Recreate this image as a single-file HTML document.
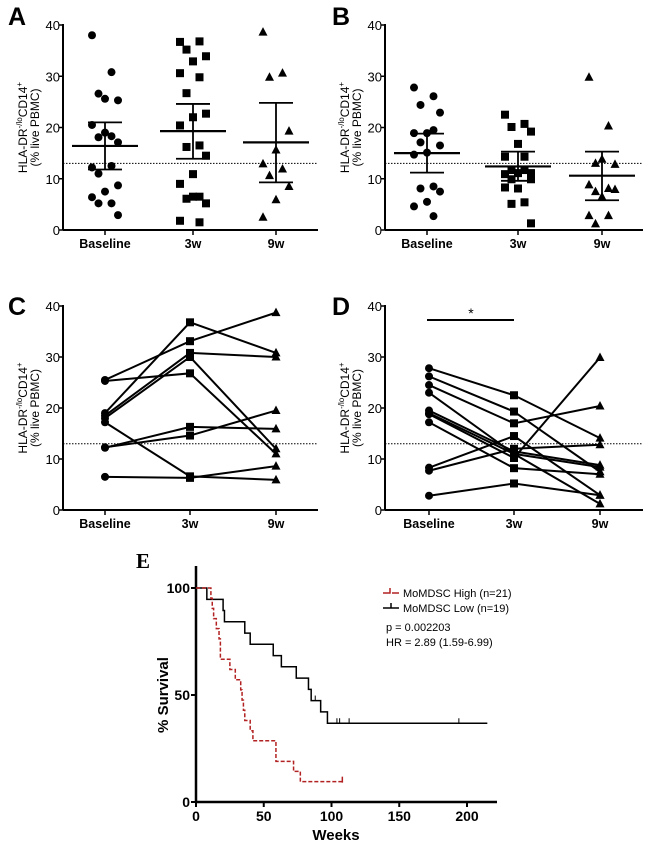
<!DOCTYPE html>
<html><head><meta charset="utf-8"><style>
body{margin:0;background:#fff}
svg{display:block;font-family:"Liberation Sans",Arial,sans-serif}
</style></head><body>
<svg id="fig" width="650" height="849" viewBox="0 0 650 849"></svg>
<script>
// ---- Data ----
const categories = ["Baseline","3w","9w"];
const yTicks = [0,10,20,30,40];
const threshold = 13;
// Panel A
const aBase = [38,30.8,26.6,25.3,25.6,20.5,18.3,18.1,17.1,19,12.2,12.5,11,8.7,7.5,6.4,5.2,5.2,2.9];
const a3w = [36.7,36.8,35.2,33.9,32.9,30.6,29.8,26.7,22.7,22,20.4,16.5,16.2,14.5,10.9,9,6.5,6.1,5.2,6.5,1.8,1.5];
const a9w = [38.6,30.6,29.8,19.3,15.6,12.9,11.9,10.6,8.5,5.9,2.5];
const aMean = [16.4,19.3,17.1];
const aUpper = [21,24.6,24.8];
const aLower = [11.8,13.9,9.3];
// Panel B
const bBase = [27.8,26.1,24.4,22.9,18.9,18.9,19.5,17.1,16.5,15.1,14.7,8.5,8.1,7.5,5.5,4.6,2.7];
const b3w = [22.5,20.7,20.1,19.2,16.8,14.3,14.3,11.7,11.1,11.1,10.9,11.7,9.9,9.9,8.1,8.3,5.4,5.1,1.3];
const b9w = [29.8,20.3,13,12.8,13.8,8.8,8.1,7.5,7.9,6.5,2.8,2.8,1.2];
const bMean = [15,12.4,10.6];
const bUpper = [18.8,15.3,15.3];
const bLower = [11.2,9.6,5.8];
// Panel C paired (baseline, 3w, 9w)
const cBase = [25.5,25.3,19,18.5,18,17.2,12.2,12.3,6.5];
const c3w = [33.1,26.8,36.8,30.8,30,6.6,16.3,14.6,6.3];
const c9w = [38.7,11,30.8,30,12,5.9,15.9,19.5,8.6];
// Panel D paired
const dBase = [27.8,26.2,24.5,23,19.5,19,18.8,17.2,8.3,7.7,2.8];
const d3w = [22.5,19.3,17,11,11.5,11,10.2,8.2,14.5,12,5.2];
const d9w = [14.1,7.5,20.4,1.2,8.8,8.4,29.9,7,2.9,12.8,2.9];
// Panel E Kaplan-Meier
const highTimes = [0,11,12,13,15,17,18,25,29,33,34,35,36,40,42,59,72,77,108];
const highSurv = [100,95.2,90.5,85.7,81,76.2,66.7,61.9,57.1,52.4,47.6,42.9,38.1,33.3,28.6,19,14.3,9.5,9.5];
const lowTimes = [0,8,20,21,36,40,57,63,74,83,85,92,97,215];
const lowSurv = [100,94.7,89.5,84.2,78.9,73.7,68.4,63.2,57.9,52.6,47.4,42.1,36.8,36.8];
const lowCensor = [88,104,106,113,194];
const highCensor = [108];
const eXTicks = [0,50,100,150,200];
const eYTicks = [0,50,100];

const NS="http://www.w3.org/2000/svg";
const svg=document.getElementById('fig');
function mk(tag,attrs,parent,text){const e=document.createElementNS(NS,tag);for(const k in attrs)e.setAttribute(k,attrs[k]);if(text!==undefined)e.textContent=text;(parent||svg).appendChild(e);return e;}

function marker(g,shape,x,y,name){
  let e;
  if(shape==='circle'){e=mk('circle',{cx:x,cy:y,r:4,fill:'#000'},g);}
  else if(shape==='square'){e=mk('rect',{x:x-4,y:y-4,width:8,height:8,fill:'#000'},g);}
  else {e=mk('polygon',{points:`${x},${y-5} ${x-4.5},${y+3.5} ${x+4.5},${y+3.5}`,fill:'#000'},g);}
  
  
}

function axesPanel(opt){
  const g=mk('g',{});
  
  
  const ys=v=>opt.y0-(v/40)*(opt.y0-opt.y40);
  const lbl=mk('text',{x:opt.lx,y:opt.ly,'font-size':25,'font-weight':'bold'},g,opt.letter);
  
  
  mk('line',{x1:opt.ax,y1:opt.y40-1,x2:opt.ax,y2:opt.y0,stroke:'#000','stroke-width':2},g);
  mk('line',{x1:opt.ax,y1:opt.y0,x2:opt.xend,y2:opt.y0,stroke:'#000','stroke-width':2},g);
  yTicks.forEach(t=>{
    mk('line',{x1:opt.ax-4,y1:ys(t),x2:opt.ax,y2:ys(t),stroke:'#000','stroke-width':1.5},g);
    const tx=mk('text',{x:opt.ax-3,y:ys(t)+5,'font-size':13,'text-anchor':'end'},g,String(t));
    
    
  });
  categories.forEach((c,i)=>{
    const x=opt.cx[i];
    mk('line',{x1:x,y1:opt.y0,x2:x,y2:opt.y0+5,stroke:'#000','stroke-width':1.5},g);
    const tx=mk('text',{x:x,y:opt.y0+18,'font-size':12.5,'font-weight':'bold','text-anchor':'middle'},g,c);
    
    
  });
  mk('line',{x1:opt.ax,y1:ys(threshold),x2:opt.xend,y2:ys(threshold),stroke:'#000','stroke-width':1,'stroke-dasharray':'1.5,1.5'},g);
  const ym=(opt.y0+opt.y40)/2;
  const t=mk('text',{transform:`translate(${opt.ax-36},${ym}) rotate(-90)`,'font-size':12,'text-anchor':'middle'},g);
  
  
  mk('tspan',{x:0,dy:0},t,'HLA-DR');
  mk('tspan',{'font-size':8,dy:-5},t,'-/lo');
  mk('tspan',{dy:5},t,'CD14');
  mk('tspan',{'font-size':8,dy:-5},t,'+');
  mk('tspan',{x:0,dy:17},t,'(% live PBMC)');
  return {g,ys};
}

const shapes=['circle','square','triangle'];
function scatterPanel(opt,series,mean,upper,lower){
  const {g,ys}=axesPanel(opt);
  series.forEach((arr,ci)=>{
    arr.forEach((v,i)=>{
      const off=(((i*3)%5)-2)*6.5;
      marker(g,shapes[ci],opt.cx[ci]+off,ys(v),'point-'+categories[ci].toLowerCase());
    });
    const x=opt.cx[ci];
    mk('line',{x1:x-33,y1:ys(mean[ci]),x2:x+33,y2:ys(mean[ci]),stroke:'#000','stroke-width':2.2},g);
    mk('line',{x1:x,y1:ys(upper[ci]),x2:x,y2:ys(lower[ci]),stroke:'#000','stroke-width':1.8},g);
    [upper[ci],lower[ci]].forEach(v=>mk('line',{x1:x-17,y1:ys(v),x2:x+17,y2:ys(v),stroke:'#000','stroke-width':1.8},g));
  });
}
function pairedPanel(opt,b,w3,w9){
  const {g,ys}=axesPanel(opt);
  b.forEach((v,i)=>{
    const pts=[[opt.cx[0],ys(v)],[opt.cx[1],ys(w3[i])],[opt.cx[2],ys(w9[i])]];
    const pl=mk('polyline',{points:pts.map(p=>p.join(',')).join(' '),fill:'none',stroke:'#000','stroke-width':2},g);
    
    
    pts.forEach((p,ci)=>marker(g,shapes[ci],p[0],p[1],'point-'+categories[ci].toLowerCase()));
  });
  return {g,ys};
}

scatterPanel({name:'panel-a',letter:'A',lx:8,ly:25,ax:63,y0:230,y40:25,xend:318,cx:[105,193,276]},[aBase,a3w,a9w],aMean,aUpper,aLower);
scatterPanel({name:'panel-b',letter:'B',lx:332,ly:25,ax:385,y0:230,y40:25,xend:643,cx:[427,518,602]},[bBase,b3w,b9w],bMean,bUpper,bLower);
pairedPanel({name:'panel-c',letter:'C',lx:8,ly:315,ax:63,y0:510,y40:306,xend:318,cx:[105,190,276]},cBase,c3w,c9w);
const D=pairedPanel({name:'panel-d',letter:'D',lx:332,ly:315,ax:385,y0:510,y40:306,xend:643,cx:[429,514,600]},dBase,d3w,d9w);
mk('line',{x1:427,y1:320,x2:514,y2:320,stroke:'#000','stroke-width':2},D.g);
const st=mk('text',{x:471,y:318,'font-size':14,'text-anchor':'middle'},D.g,'*');



// Panel E
(function(){
  const g=mk('g',{});
  
  
  const X0=196, pxw=(467-196)/200, Y0=802, Y100=588;
  const xs=w=>X0+w*pxw, ys=v=>Y0-v/100*(Y0-Y100);
  const L=mk('text',{x:136,y:568,'font-size':21,'font-weight':'bold','font-family':'"Liberation Serif",serif'},g,'E');
  
  
  mk('line',{x1:X0,y1:566,x2:X0,y2:Y0,stroke:'#000','stroke-width':2.5},g);
  mk('line',{x1:X0,y1:Y0,x2:497,y2:Y0,stroke:'#000','stroke-width':2.5},g);
  eYTicks.forEach(t=>{
    mk('line',{x1:X0-5,y1:ys(t),x2:X0,y2:ys(t),stroke:'#000','stroke-width':2},g);
    const tx=mk('text',{x:X0-6,y:ys(t)+5,'font-size':14,'font-weight':'bold','text-anchor':'end'},g,String(t));
    
    
  });
  eXTicks.forEach(t=>{
    mk('line',{x1:xs(t),y1:Y0,x2:xs(t),y2:Y0+5,stroke:'#000','stroke-width':2},g);
    const tx=mk('text',{x:xs(t),y:Y0+19,'font-size':14,'font-weight':'bold','text-anchor':'middle'},g,String(t));
    
    
  });
  const xt=mk('text',{x:336,y:840,'font-size':15,'font-weight':'bold','text-anchor':'middle'},g,'Weeks');
  
  
  const yt=mk('text',{transform:`translate(168,695) rotate(-90)`,'font-size':15,'font-weight':'bold','text-anchor':'middle'},g,'% Survival');
  
  
  function step(times,surv){
    let d=`M${xs(times[0])},${ys(surv[0])}`;
    for(let i=1;i<times.length;i++){d+=` H${xs(times[i])} V${ys(surv[i])}`;}
    return d;
  }
  function survAt(times,surv,t){let v=surv[0];for(let i=0;i<times.length;i++){if(times[i]<=t)v=surv[i];}return v;}
  const lo=mk('path',{d:step(lowTimes,lowSurv),fill:'none',stroke:'#000','stroke-width':1.5},g);
  
  
  lowCensor.forEach(t=>mk('line',{x1:xs(t),y1:ys(survAt(lowTimes,lowSurv,t)),x2:xs(t),y2:ys(survAt(lowTimes,lowSurv,t))-5,stroke:'#000','stroke-width':1},g));
  const hi=mk('path',{d:step(highTimes,highSurv),fill:'none',stroke:'#b22222','stroke-width':1.5,'stroke-dasharray':'4,2'},g);
  
  
  highCensor.forEach(t=>mk('line',{x1:xs(t),y1:ys(survAt(highTimes,highSurv,t))+1,x2:xs(t),y2:ys(survAt(highTimes,highSurv,t))-5,stroke:'#b22222','stroke-width':1.5},g));
  // legend
  const lg=mk('g',{},g);
  
  
  mk('path',{d:'M383,593 H390 V588 M392,593 H399',fill:'none',stroke:'#b22222','stroke-width':1.5},lg);
  mk('text',{x:403,y:597,'font-size':11},lg,'MoMDSC High (n=21)');
  mk('path',{d:'M383,608 H399 M391,608 V603',fill:'none',stroke:'#000','stroke-width':1.5},lg);
  mk('text',{x:403,y:612,'font-size':11},lg,'MoMDSC Low (n=19)');
  const p=mk('text',{x:386,y:631,'font-size':11},g,'p = 0.002203');
  
  
  const hr=mk('text',{x:386,y:646,'font-size':11},g,'HR = 2.89 (1.59-6.99)');
  
  
})();
</script>
</body></html>
